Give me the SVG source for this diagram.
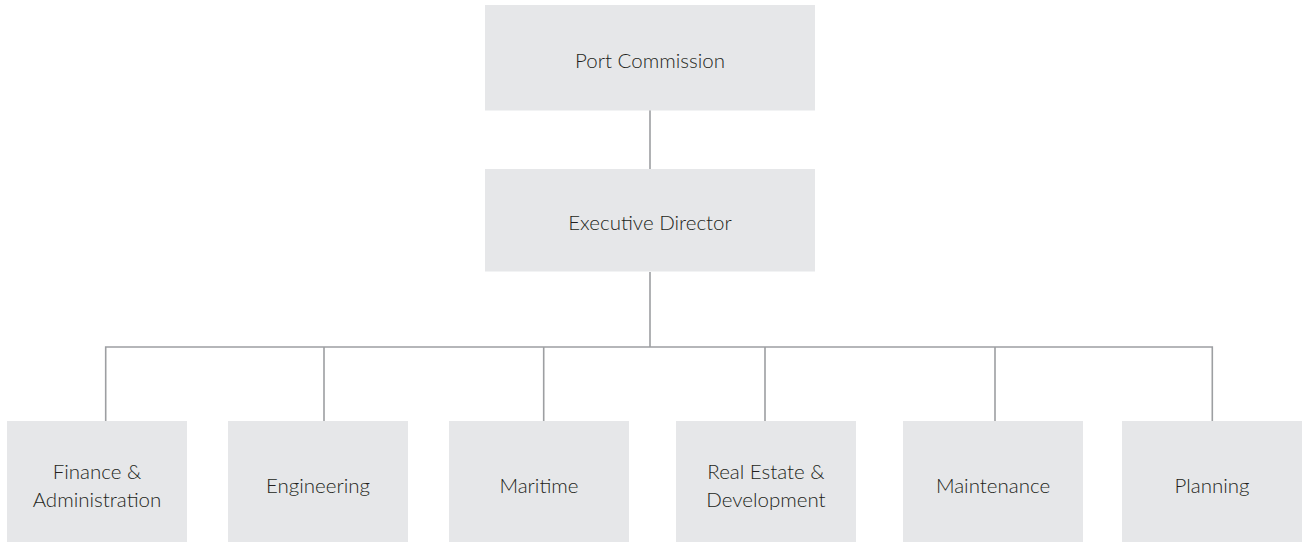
<svg xmlns="http://www.w3.org/2000/svg" width="1302" height="543" viewBox="0 0 1302 543">
<style>
.box{fill:#e6e7e9}
.lbl{font-family:Lato,"Noto Sans",sans-serif;font-weight:300;font-size:20.5px;fill:#231f20;text-anchor:middle}
.conn{stroke:#9d9fa2;stroke-width:1.6;fill:none}
</style>
<rect width="1302" height="543" fill="#ffffff"/>
<g id="connectors">
<path class="conn" d="M650 110V169M650 272V347M105.7 421V347H1212.3V421M324 347V421M543.7 347V421M765 347V421M995 347V421"/>
</g>
<g id="port-commission"><rect class="box" x="485" y="5" width="330" height="105.5"/><text class="lbl" x="650" y="68">Port Commission</text></g>
<g id="executive-director"><rect class="box" x="485" y="169" width="330" height="102.5"/><text class="lbl" x="650" y="230">Executive Director</text></g>
<g id="finance"><rect class="box" x="7" y="421" width="180" height="121"/><text class="lbl" x="97" y="478.5">Finance &amp;</text><text class="lbl" x="97" y="506.5">Administration</text></g>
<g id="engineering"><rect class="box" x="228" y="421" width="180" height="121"/><text class="lbl" x="318" y="492.5">Engineering</text></g>
<g id="maritime"><rect class="box" x="449" y="421" width="180" height="121"/><text class="lbl" x="539" y="492.5">Maritime</text></g>
<g id="real-estate"><rect class="box" x="676" y="421" width="180" height="121"/><text class="lbl" x="766" y="478.5">Real Estate &amp;</text><text class="lbl" x="766" y="506.5">Development</text></g>
<g id="maintenance"><rect class="box" x="903" y="421" width="180" height="121"/><text class="lbl" x="993" y="492.5">Maintenance</text></g>
<g id="planning"><rect class="box" x="1122" y="421" width="180" height="121"/><text class="lbl" x="1212" y="492.5">Planning</text></g>
</svg>
